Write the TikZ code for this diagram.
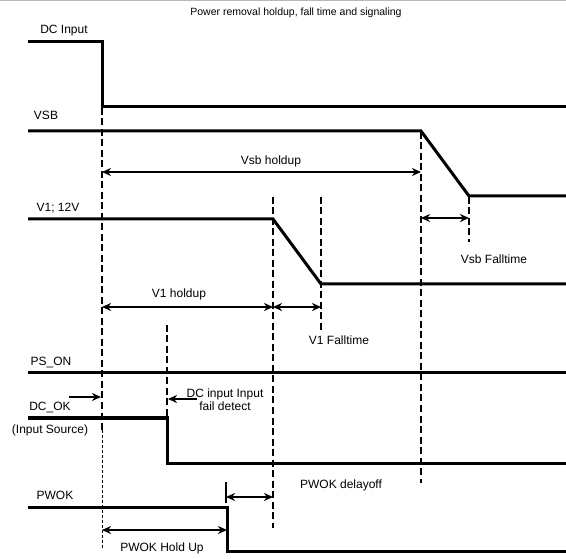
\documentclass[tikz,border=0pt]{standalone}
\usepackage{fontspec}
\setmainfont{Liberation Sans}
\usetikzlibrary{arrows.meta}

\begin{document}
\begin{tikzpicture}[x=1pt, y=-1pt, >={Stealth[length=9pt,width=8pt]},
        signal/.style={line width=3pt, line join=miter},
        guide/.style={line width=2pt, dash pattern=on 7pt off 3.5pt},
        thinguide/.style={line width=0.8pt, dash pattern=on 3pt off 2pt},
        span/.style={<->, line width=2.4pt},
        lbl/.style={font=\fontsize{12}{14}\selectfont, inner sep=0pt}]
        \useasboundingbox (0,0) rectangle (566,559);
        \draw[gray!55, line width=1.2pt] (0,0.6) -- (566,0.6);

        % title and signal names
        \node[font=\fontsize{10.5}{12}\selectfont, inner sep=0pt] (title) at (296,13) {Power removal holdup, fall time and signaling};
        \node[lbl] (dcin) at (64,31) {DC Input};
        \node[lbl] (vsb) at (46,115) {VSB};
        \node[lbl] (v1) at (58,208) {V1; 12V};
        \node[lbl] (pson) at (51,363) {PS\_ON};
        \node[lbl] (dcok) at (50,408) {DC\_OK};
        \node[lbl] (src) at (50,430) {(Input Source)};
        \node[lbl] (pwok) at (55,495) {PWOK};

        % signals
        \draw[signal] (28,42) -- (102,42) -- (102,107) -- (566,107);
        \draw[signal] (28,131) -- (421,131) -- (469,196) -- (566,196);
        \draw[signal] (28,219) -- (273,219) -- (321,284) -- (566,284);
        \draw[signal] (28,373) -- (566,373);
        \draw[signal] (28,418) -- (167,418) -- (167,463) -- (566,463);
        \draw[signal] (28,507) -- (227,507) -- (227,551) -- (566,551);

        % guide lines
        \draw[guide] (102,108) -- (102,430);
        \draw[thinguide] (102,430) -- (102,550);
        \draw[guide] (421,132) -- (421,483);
        \draw[guide] (469,197) -- (469,242);
        \draw[guide] (273,197) -- (273,528);
        \draw[guide] (321,197) -- (321,330);
        \draw[guide] (167,325) -- (167,418);
        \draw[line width=2pt] (226,482) -- (226,503);

        % end points of the timing arrows
        \coordinate (vsbholdA) at (102,172);
        \coordinate (vsbholdB) at (421,172);
        \coordinate (vsbfallA) at (421,218);
        \coordinate (vsbfallB) at (469,218);
        \coordinate (v1holdA) at (102,307);
        \coordinate (v1holdB) at (273,307);
        \coordinate (v1fallB) at (321,307);
        \coordinate (dcokA) at (69,397);
        \coordinate (dcokB) at (101,397);
        \coordinate (failA) at (197,399);
        \coordinate (failB) at (168,399);
        \coordinate (delayA) at (226,497);
        \coordinate (delayB) at (273,497);
        \coordinate (pwholdA) at (102,530);
        \coordinate (pwholdB) at (227,530);

        \draw[span] (vsbholdA) -- (vsbholdB);
        \draw[span] (vsbfallA) -- (vsbfallB);
        \draw[span] (v1holdA) -- (v1holdB);
        \draw[span] (v1holdB) -- (v1fallB);
        \draw[->, line width=2.4pt] (dcokA) -- (dcokB);
        \draw[->, line width=2.4pt] (failA) -- (failB);
        \draw[span] (delayA) -- (delayB);
        \draw[span] (pwholdA) -- (pwholdB);

        % timing labels
        \node[lbl] (lvsbhold) at (271,161) {Vsb holdup};
        \node[lbl] (lvsbfall) at (494,259) {Vsb Falltime};
        \node[lbl] (lv1hold) at (179,294) {V1 holdup};
        \node[lbl] (lv1fall) at (339,340) {V1 Falltime};
        \node[lbl, align=center] (lfail) at (225,399.5) {DC input Input\\[-1.5pt]fail detect};
        \node[lbl] (ldelay) at (341,485) {PWOK delayoff};
        \node[lbl] (lpwhold) at (162,548) {PWOK Hold Up};
    \end{tikzpicture}
\end{document}
